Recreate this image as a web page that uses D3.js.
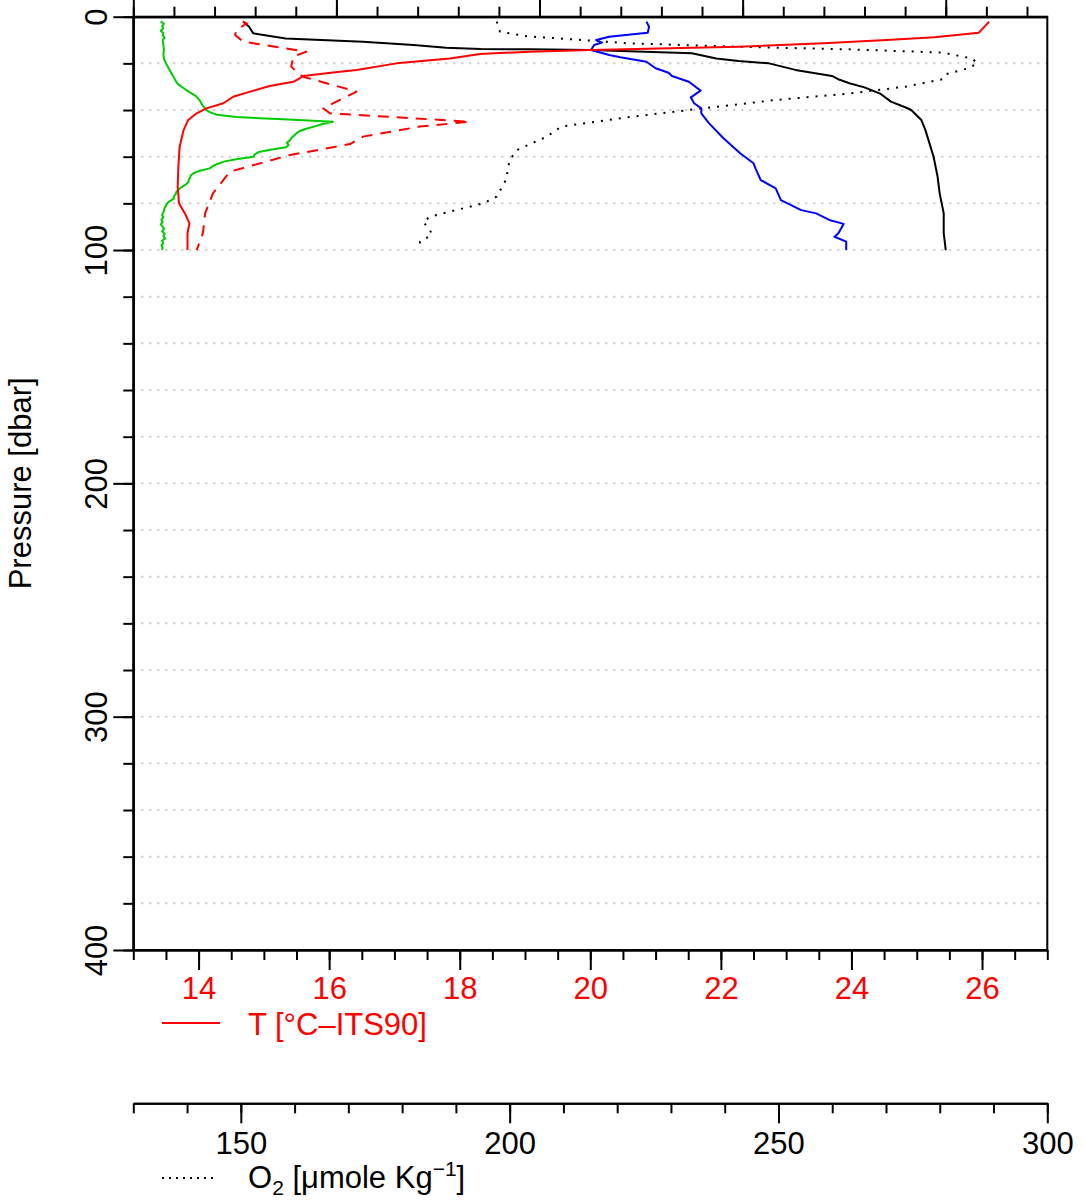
<!DOCTYPE html>
<html>
<head>
<meta charset="utf-8">
<script src="https://cdn.jsdelivr.net/npm/d3@7"></script>
<style>
body { margin: 0; background: #fff; }
svg text { font-family: "Liberation Sans", Arial, Helvetica, sans-serif; }
</style>
</head>
<body>
<div id="chart"></div>
<script>

// each profile is a list of [pressure (dbar), value]
var tempProfile = [[2.1,26.11],[6.9,25.95],[8.8,25.27],[10,24.54],[11.4,23.57],[12.9,22.27],[14.3,20.0],[15.0,19.07],[16.0,18.31],[17.9,17.85],[20,17.03],[22.8,16.42],[23.6,16.16],[25.4,15.60],[26.4,15.55],[27.9,15.45],[29.7,15.09],[32.1,14.79],[34.3,14.53],[37.1,14.38],[39.3,14.12],[41.4,13.97],[44.3,13.84],[48.6,13.77],[55.7,13.71],[64.3,13.69],[72.9,13.68],[80,13.70],[84.3,13.79],[88.6,13.86],[92.8,13.83],[100,13.83]];

// second temperature trace (dashed), same units
var tempDashProfile = [[2.1,14.68],[2.9,14.74],[5.7,14.58],[7.8,14.56],[10.7,14.68],[15,15.65],[17.1,15.45],[21.4,15.42],[23.6,15.50],[25.7,15.60],[32.1,16.42],[35,16.21],[39.3,15.91],[41.4,16.01],[45,18.15],[47.1,17.39],[51.4,16.52],[54.6,16.32],[59.3,15.40],[66.4,14.48],[75.7,14.22],[84.3,14.10],[92,14.07],[94.3,14.05],[100,13.97]];

// green trace, read on the temperature scale
var greenProfile = [[2,13.42],[3,13.47],[4,13.44],[5,13.46],[6,13.42],[7,13.46],[8,13.45],[9,13.48],[10,13.45],[12,13.46],[14,13.47],[16,13.46],[18,13.47],[20,13.50],[22,13.54],[24,13.58],[26,13.62],[28,13.66],[29,13.69],[30,13.74],[31,13.79],[32,13.84],[33,13.90],[34,13.96],[35,13.99],[36,14.02],[38,14.06],[40,14.12],[41,14.18],[42,14.28],[43,14.58],[44,15.3],[45,16.06],[46,15.9],[47,15.78],[48,15.65],[49,15.55],[50,15.50],[51,15.46],[52,15.42],[53,15.40],[54,15.35],[55,15.38],[56,15.34],[57,15.10],[58,14.92],[59,14.86],[60,14.84],[61,14.60],[62,14.40],[63,14.30],[64,14.22],[65,14.17],[66,14.02],[67,13.93],[68,13.88],[69,13.87],[70,13.85],[71,13.84],[72,13.80],[73,13.74],[74,13.70],[75,13.66],[76,13.65],[77,13.62],[78,13.62],[79,13.56],[80,13.52],[81,13.50],[82,13.48],[83,13.47],[84,13.46],[85,13.44],[86,13.46],[87,13.43],[88,13.45],[89,13.42],[90,13.45],[91,13.47],[92,13.44],[93,13.48],[94,13.46],[95,13.49],[96,13.44],[97,13.46],[98,13.43],[99,13.45],[100,13.44]];

// blue trace, read on the temperature scale
var blueProfile = [[2.1,20.86],[4.3,20.90],[6.9,20.88],[7.4,20.69],[8.6,20.29],[10,20.09],[11.1,20.18],[12.1,20.06],[14.3,20.01],[16.4,20.29],[17.4,20.46],[19.3,20.86],[22.1,21.0],[24,21.20],[25.4,21.25],[27.9,21.51],[31.7,21.69],[34.6,21.54],[37.1,21.59],[39.3,21.70],[41.4,21.70],[45.7,21.82],[52.1,22.04],[58.6,22.30],[62.8,22.50],[65,22.53],[70,22.61],[73.6,22.84],[78.6,22.92],[82.9,23.23],[84.3,23.46],[87.1,23.66],[88.8,23.88],[92.8,23.80],[94.3,23.74],[96.4,23.92],[100,23.92]];

// black solid trace on the top axis (sigma-theta)
var sigmaProfile = [[2.1,22.54],[4.3,22.57],[7.1,22.59],[9.3,22.75],[10.7,23.13],[12.1,23.38],[13.3,23.54],[13.8,23.71],[14.0,23.95],[14.3,24.25],[15.7,24.75],[17.9,24.87],[19,24.98],[20,25.13],[22.8,25.26],[25.4,25.44],[26.8,25.47],[28.6,25.53],[30.3,25.60],[33.1,25.68],[36.4,25.73],[38.8,25.80],[40,25.83],[44.3,25.88],[48.6,25.90],[54.3,25.92],[60,25.94],[68.6,25.96],[75.7,25.97],[84.3,25.99],[92.8,25.99],[100,26.00]];

// oxygen, umol/kg
var oxyProfile = [[2.1,197.6],[6.4,198.2],[8.4,203.2],[9.7,211.7],[11.4,222.0],[12.9,242.7],[14.0,263.3],[15.4,280.5],[17.9,286.0],[20,287.0],[22.1,285.3],[24.6,281.2],[26.8,280.5],[30,273.6],[32.9,263.3],[35.7,249.5],[39.3,235.8],[43.1,222.0],[47.1,209.6],[51.4,206.9],[57.1,201.4],[61.4,200.0],[70,199.3],[77.1,197.6],[80,195.1],[82.1,191.4],[85.7,185.2],[87.9,183.9],[91.4,185.2],[93.6,185.5],[96.4,183.3],[100,183.6]];

// axis ticks
var pMajor = [0, 100, 200, 300, 400];
var tMajor = [14, 16, 18, 20, 22, 24, 26];
var sigmaMajor = [22, 23, 24, 25, 26];
var oxyMajor = [150, 200, 250, 300];

function drawProfiles() {
	var W = 1085, H = 1201;
	var x0 = 133.3, x1 = 1047.3, y0 = 16.7, y1 = 950;
	var oxyAxisY = 1103.3;
	var fs = 31;

	var svg = d3.select("#chart").append("svg")
		.attr("width", W)
		.attr("height", H);

	var y = d3.scaleLinear().domain([0, 400]).range([y0, y1]);
	var xT = d3.scaleLinear().domain([13, 27]).range([x0, x1]);
	var xSig = d3.scaleLinear().domain([22, 26.5]).range([x0, x1]);
	var xOxy = d3.scaleLinear().domain([130, 300]).range([x0, x1]);

	// dotted grid every 20 dbar
	svg.append("g").selectAll("line")
		.data(d3.range(20, 400, 20))
		.enter().append("line")
		.attr("x1", x0).attr("x2", x1)
		.attr("y1", function(d) { return y(d); })
		.attr("y2", function(d) { return y(d); })
		.attr("stroke", "#c8c8c8")
		.attr("stroke-width", 2)
		.attr("stroke-dasharray", "2,6");

	function styleAxis(g) {
		g.select(".domain").attr("stroke-width", 2);
		g.selectAll(".tick line").attr("stroke-width", 2);
		g.attr("font-size", fs).attr("font-family", null);
	}

	// left axis: pressure
	var gl = svg.append("g").attr("transform", "translate(" + x0 + ",0)");
	gl.append("g").call(d3.axisLeft(y).tickValues(d3.range(0, 401, 20)).tickSize(10).tickSizeOuter(0).tickFormat("")).call(styleAxis);
	gl.append("g").call(d3.axisLeft(y).tickValues(pMajor).tickSize(20).tickSizeOuter(0).tickFormat(d3.format("d"))).call(styleAxis)
		.selectAll("text")
		.attr("x", null).attr("dy", null)
		.attr("text-anchor", "middle")
		.attr("fill", "#000")
		.attr("transform", "translate(-26,0) rotate(-90)");

	svg.append("text")
		.attr("transform", "translate(31," + ((y0 + y1) / 2) + ") rotate(-90)")
		.attr("text-anchor", "middle")
		.attr("font-size", fs)
		.text("Pressure [dbar]");

	// top axis (its labels fall above the page)
	var gt = svg.append("g").attr("transform", "translate(0," + y0 + ")");
	gt.append("g").call(d3.axisTop(xSig).tickValues(d3.range(22, 26.51, 0.2)).tickSize(10).tickSizeOuter(0).tickFormat("")).call(styleAxis);
	gt.append("g").call(d3.axisTop(xSig).tickValues(sigmaMajor).tickSize(20).tickSizeOuter(0).tickFormat("")).call(styleAxis);

	// bottom axis: temperature
	var gb = svg.append("g").attr("transform", "translate(0," + y1 + ")");
	gb.append("g").call(d3.axisBottom(xT).tickValues(d3.range(13, 27.01, 0.5)).tickSize(10).tickSizeOuter(0).tickFormat("")).call(styleAxis);
	gb.append("g").call(d3.axisBottom(xT).tickValues(tMajor).tickSize(20).tickSizeOuter(0).tickPadding(7).tickFormat(d3.format("d"))).call(styleAxis)
		.selectAll("text").attr("fill", "#ff0000");

	// box
	svg.append("rect")
		.attr("x", x0).attr("y", y0)
		.attr("width", x1 - x0).attr("height", y1 - y0)
		.attr("fill", "none")
		.attr("stroke", "#000")
		.attr("stroke-width", 2);

	// oxygen axis below the plot
	var go = svg.append("g").attr("transform", "translate(0," + oxyAxisY + ")");
	go.append("g").call(d3.axisBottom(xOxy).tickValues(d3.range(130, 301, 10)).tickSize(10).tickSizeOuter(0).tickFormat("")).call(styleAxis);
	go.append("g").call(d3.axisBottom(xOxy).tickValues(oxyMajor).tickSize(20).tickSizeOuter(0).tickPadding(9).tickFormat(d3.format("d"))).call(styleAxis)
		.selectAll("text").attr("fill", "#000");

	// profiles
	function addProfile(data, xs, color, dash) {
		var line = d3.line()
			.x(function(d) { return xs(d[1]); })
			.y(function(d) { return y(d[0]); });
		svg.append("path")
			.datum(data)
			.attr("d", line)
			.attr("fill", "none")
			.attr("stroke", color)
			.attr("stroke-width", 2)
			.attr("stroke-linejoin", "round")
			.attr("stroke-dasharray", dash);
	}

	addProfile(oxyProfile, xOxy, "#000", "2,7");
	addProfile(sigmaProfile, xSig, "#000", null);
	addProfile(blueProfile, xT, "#0000ff", null);
	addProfile(greenProfile, xT, "#00cd00", null);
	addProfile(tempDashProfile, xT, "#ff0000", "11,8");
	addProfile(tempProfile, xT, "#ff0000", null);

	// legends
	svg.append("line")
		.attr("x1", 162).attr("x2", 220).attr("y1", 1023).attr("y2", 1023)
		.attr("stroke", "#ff0000").attr("stroke-width", 2);
	svg.append("text")
		.attr("x", 248).attr("y", 1035)
		.attr("font-size", fs).attr("fill", "#ff0000")
		.text("T [\u00b0C\u2013ITS90]");

	svg.append("line")
		.attr("x1", 162).attr("x2", 216).attr("y1", 1178).attr("y2", 1178)
		.attr("stroke", "#000").attr("stroke-width", 2)
		.attr("stroke-dasharray", "2,5");
	var ot = svg.append("text")
		.attr("x", 248).attr("y", 1188)
		.attr("font-size", fs).attr("fill", "#000");
	ot.append("tspan").text("O");
	ot.append("tspan").attr("font-size", 21).attr("dy", 7).text("2");
	ot.append("tspan").attr("dy", -7).text(" [\u03bcmole Kg");
	ot.append("tspan").attr("font-size", 21).attr("dy", -12).text("\u22121");
	ot.append("tspan").attr("dy", 12).text("]");
}

drawProfiles();

</script>
</body>
</html>
